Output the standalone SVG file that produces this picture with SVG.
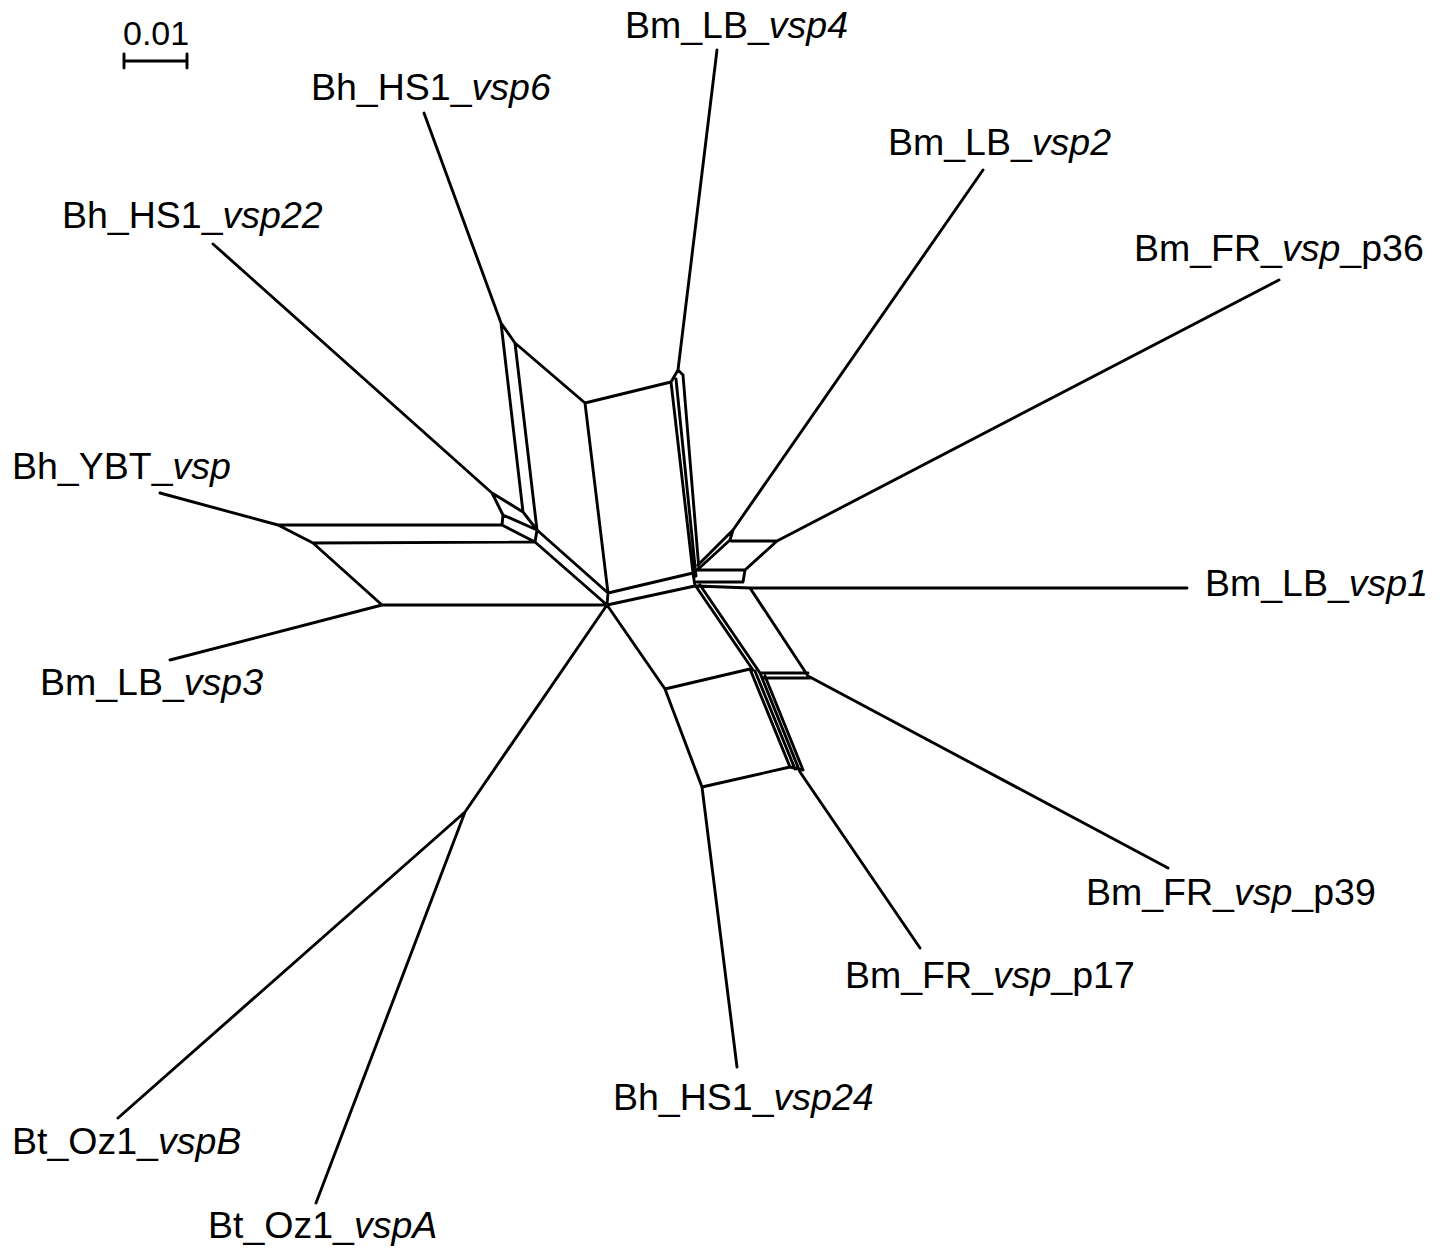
<svg xmlns="http://www.w3.org/2000/svg" width="1444" height="1251" viewBox="0 0 1444 1251">
<style>
text{font-family:"Liberation Sans",Arial,sans-serif;font-size:37.5px;fill:#000}
.i{font-style:italic}
.e{stroke:#000;stroke-width:2.9;fill:none;stroke-linejoin:round;stroke-linecap:round}
</style>
<rect width="1444" height="1251" fill="#fff"/>
<g id="scale">
<text x="123" y="45" style="font-size:34px">0.01</text>
<path class="e" d="M124 61H187M124 54V68M187 54V68"/>
</g>
<g id="connectors">
<path class="e" d="
M717 50L678 370
M678 370L671 382M678 370L683 375
M671 382L693 573M676 379L696 576M683 375L699 570
M983 170L733 530M733 530L730 540M733 530L698 565M730 540L695 572
M1279 280L777 541M777 541L731 541M777 541L745 570M745 570L697 570M745 570L743 582M743 582L697 582
M1187 588L750 588M750 588L697 586
M695 585L753 670M700 585L760 673M750 588L808 676
M760 673L808 673M763 678L810 678M808 676L1168 868
M607 605L665 689M665 689L750 669M665 689L702 787M702 787L790 767M702 787L737 1067
M750 669L790 767M755 671L795 769M760 673L800 772M765 676L803 770M790 767L803 770
M800 772L920 948
M424 113L501 323M501 323L515 343M515 343L585 403M585 403L671 382M585 403L608 593
M501 323L523 512M515 343L537 530
M213 244L492 493M492 493L523 512M492 493L503 515M503 515L537 530M523 512L537 530
M503 515L502 525M537 530L535 542M502 525L535 542
M278 525L502 525M313 543L535 542
M537 530L608 593M535 542L607 605
M160 493L278 525M278 525L313 543M313 543L382 605M382 605L607 605M170 660L382 605
M608 593L607 605M608 593L693 573M607 605L695 586M693 573L695 586
M607 605L465 812M465 812L118 1118M465 812L316 1203
"/>
</g>
<g id="n-vsp4"><text x="625" y="38">Bm_LB_<tspan class="i">vsp4</tspan></text></g>
<g id="n-vsp6"><text x="311" y="100">Bh_HS1_<tspan class="i">vsp6</tspan></text></g>
<g id="n-vsp2"><text x="888" y="155">Bm_LB_<tspan class="i">vsp2</tspan></text></g>
<g id="n-vsp22"><text x="62" y="228">Bh_HS1_<tspan class="i">vsp22</tspan></text></g>
<g id="n-p36"><text x="1134" y="261">Bm_FR_<tspan class="i">vsp</tspan>_p36</text></g>
<g id="n-ybt"><text x="12" y="479">Bh_YBT_<tspan class="i">vsp</tspan></text></g>
<g id="n-vsp1"><text x="1205" y="596">Bm_LB_<tspan class="i">vsp1</tspan></text></g>
<g id="n-vsp3"><text x="40" y="695">Bm_LB_<tspan class="i">vsp3</tspan></text></g>
<g id="n-p39"><text x="1086" y="905">Bm_FR_<tspan class="i">vsp</tspan>_p39</text></g>
<g id="n-p17"><text x="845" y="988">Bm_FR_<tspan class="i">vsp</tspan>_p17</text></g>
<g id="n-vsp24"><text x="613" y="1110">Bh_HS1_<tspan class="i">vsp24</tspan></text></g>
<g id="n-vspB"><text x="12" y="1154">Bt_Oz1_<tspan class="i">vspB</tspan></text></g>
<g id="n-vspA"><text x="208" y="1238">Bt_Oz1_<tspan class="i">vspA</tspan></text></g>
</svg>
